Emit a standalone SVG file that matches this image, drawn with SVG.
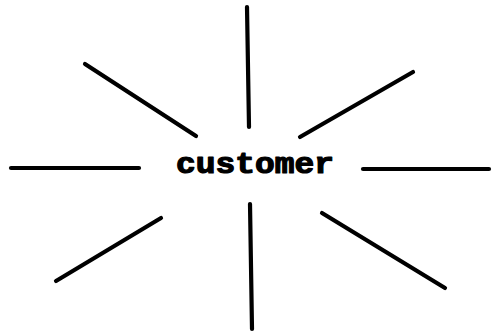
<svg xmlns="http://www.w3.org/2000/svg" width="492" height="332" viewBox="0 0 492 332">
<style>
.ray{stroke:#000;stroke-width:4.2;stroke-linecap:round;fill:none}
.lbl{font-family:"Liberation Mono","Courier New",monospace;font-weight:bold;font-size:29px;fill:#000;stroke:#000;stroke-width:1.2;stroke-linejoin:round}
</style>
<rect width="492" height="332" fill="#fff"/>
<g id="connectors">
<line class="ray" x1="247" y1="7" x2="249" y2="127"/>
<line class="ray" x1="85" y1="64" x2="196" y2="136"/>
<line class="ray" x1="300" y1="137" x2="413" y2="72"/>
<line class="ray" x1="11" y1="168" x2="139" y2="168"/>
<line class="ray" x1="363" y1="169" x2="489" y2="169"/>
<line class="ray" x1="56" y1="281" x2="161" y2="218"/>
<line class="ray" x1="250" y1="204" x2="252" y2="329"/>
<line class="ray" x1="322" y1="213" x2="445" y2="288"/>
</g>
<g id="customer">
<text class="lbl" x="176" y="173" textLength="158" lengthAdjust="spacingAndGlyphs">customer</text>
</g>
</svg>
